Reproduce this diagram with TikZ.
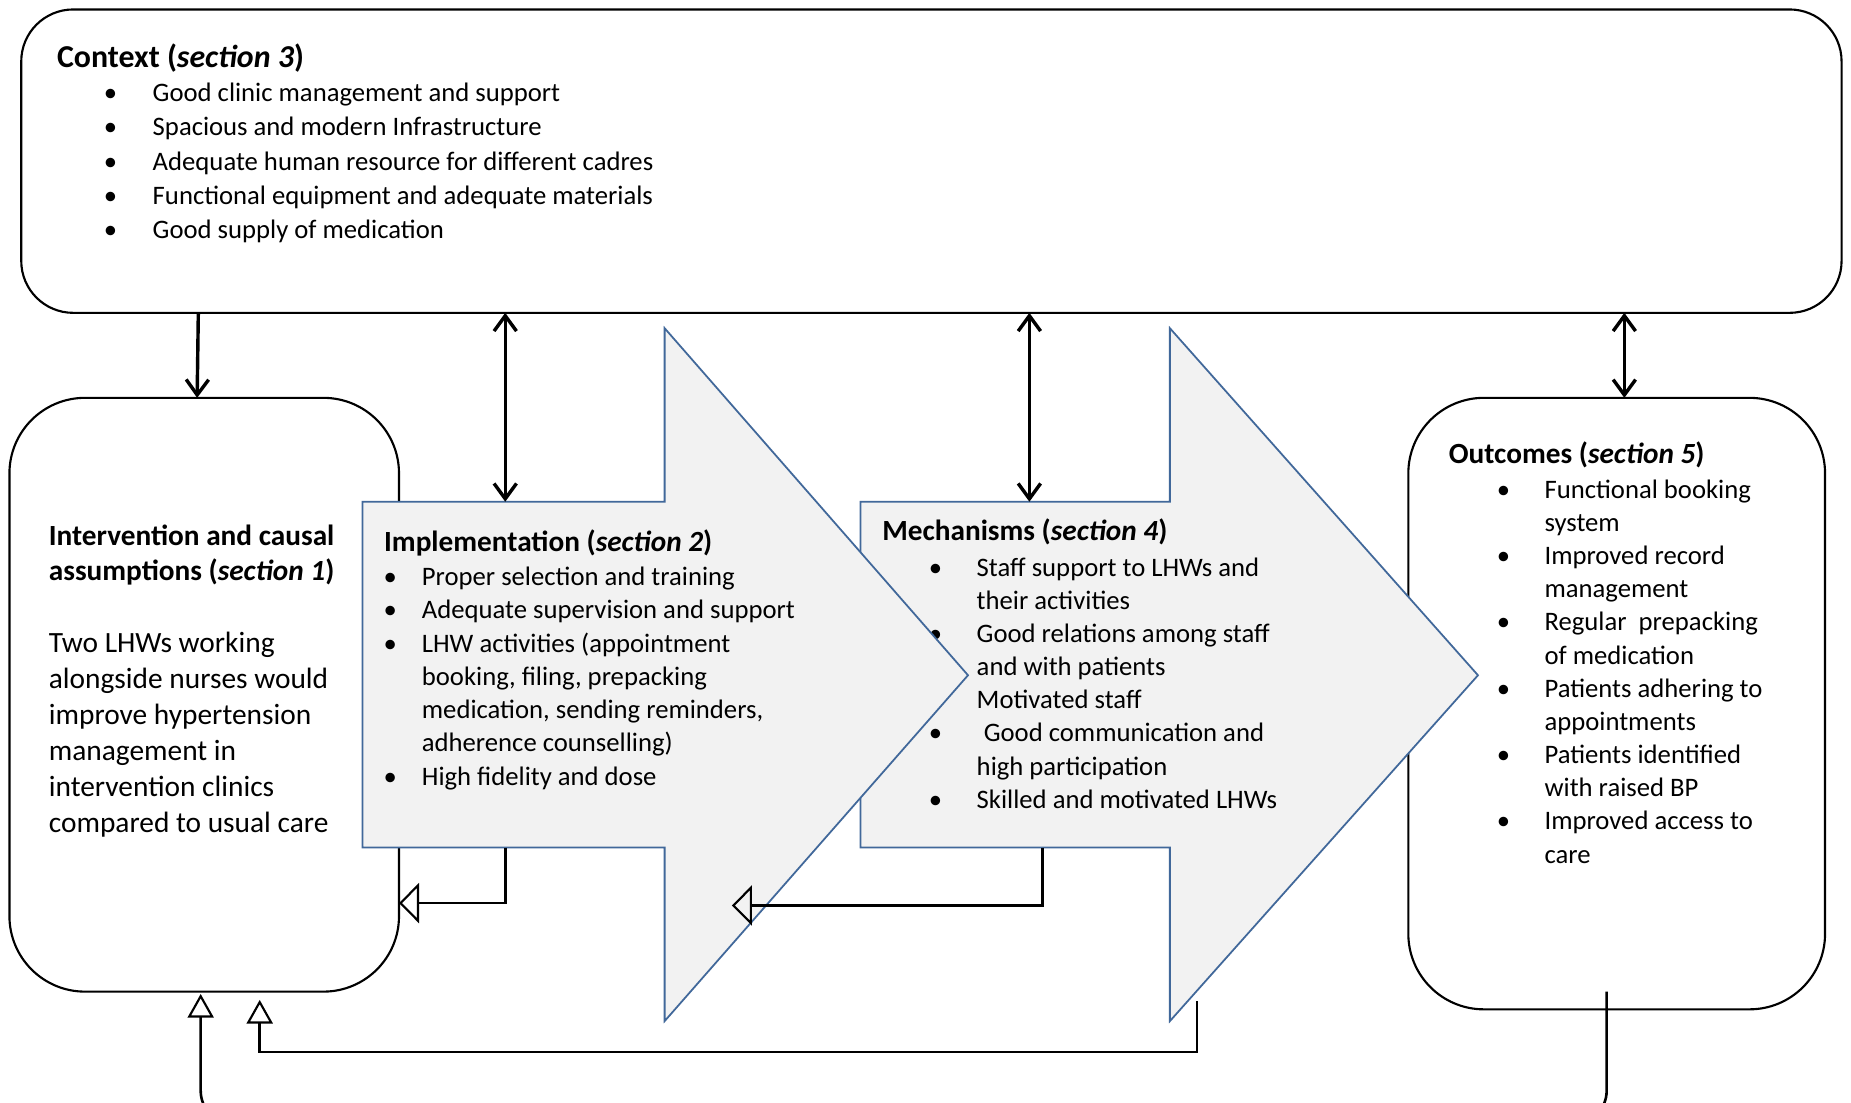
\documentclass[tikz,border=0pt]{standalone}
\usepackage{fontspec}
\setmainfont{Carlito}
\usetikzlibrary{arrows.meta}
\definecolor{arrowfill}{HTML}{F2F2F2}
\definecolor{arrowline}{HTML}{41689A}
\newcommand{\hd}[2]{\textbf{#1 (\textit{#2})}}
\begin{document}
\begin{tikzpicture}[x=0.5pt,y=-0.5pt,
  roundbox/.style={draw=black,line width=0.9pt,inner sep=0pt,outer sep=0pt},
  bigarrow/.style={fill=arrowfill,draw=arrowline,line width=0.75pt,line join=miter},
  heading/.style={anchor=base west,inner sep=0pt,font=\fontsize{12.4}{15}\selectfont},
  listtext/.style={anchor=base west,inner sep=0pt},
  dbl/.style={line width=1.45pt,{Straight Barb[length=6.5pt,width=9.5pt]}-{Straight Barb[length=6.5pt,width=9.5pt]}},
  sgl/.style={line width=1.45pt,-{Straight Barb[length=6.5pt,width=9.5pt]}},
  fbside/.style={line width=1.1pt,-{Triangle[open,length=8.5pt,width=17pt,line width=0.9pt]}},
  fbup/.style={line width=1.1pt,-{Triangle[open,length=10pt,width=11pt,line width=0.9pt]}},
]
\useasboundingbox (0,0) rectangle (1568,934);
\fill[white] (0,0) rectangle (1568,934);

% Context box
\node[roundbox,rounded corners=22pt,minimum width=771pt,minimum height=128.5pt] (context) at (789,136.5) {};
\node[heading,font=\fontsize{13.5}{15}\selectfont] (ctxHead) at (48,57) {\hd{Context}{section 3}};
\node[listtext,font=\fontsize{11.3}{14.5}\selectfont] (ctxList) at (87.5,86) {\begin{tabular}[t]{@{}p{20.75pt}@{}l@{}}
\textbullet & Good clinic management and support\\
\textbullet & Spacious and modern Infrastructure\\
\textbullet & Adequate human resource for different cadres\\
\textbullet & Functional equipment and adequate materials\\
\textbullet & Good supply of medication
\end{tabular}};

% Intervention box
\node[roundbox,rounded corners=32pt,minimum width=165pt,minimum height=251.5pt] (interv) at (173,588.5) {};
\node[heading] (intHead) at (41,462) {\begin{tabular}[t]{@{}l@{}}
\textbf{Intervention and causal}\\
\textbf{assumptions (\textit{section 1})}
\end{tabular}};
\node[listtext,font=\fontsize{12.45}{15.2}\selectfont] (intBody) at (41,553) {\begin{tabular}[t]{@{}l@{}}
Two LHWs working\\
alongside nurses would\\
improve hypertension\\
management in\\
intervention clinics\\
compared to usual care
\end{tabular}};

% Outcomes box
\node[roundbox,rounded corners=32pt,minimum width=176.5pt,minimum height=259pt] (outcomes) at (1369.5,596) {};
\node[heading] (outHead) at (1227,393) {\hd{Outcomes}{section 5}};
\node[listtext,font=\fontsize{11.3}{14.05}\selectfont] (outList) at (1267.5,422) {\begin{tabular}[t]{@{}p{20.25pt}@{}l@{}}
\textbullet & Functional booking\\
 & system\\
\textbullet & Improved record\\
 & management\\
\textbullet & Regular~ prepacking\\
 & of medication\\
\textbullet & Patients adhering to\\
 & appointments\\
\textbullet & Patients identified\\
 & with raised BP\\
\textbullet & Improved access to\\
 & care
\end{tabular}};

% Mechanisms arrow
\draw[bigarrow] (729,425) coordinate (mecNW) -- (991,425) -- (991,278) -- (1252,572) coordinate (mecTip)
  -- (991,865) -- (991,718) -- (729,718) coordinate (mecSW) -- cycle;
\node[heading] (mecHead) at (747,458) {\hd{Mechanisms}{section 4}};
\node[listtext,font=\fontsize{11.3}{14.05}\selectfont] (mecList) at (786.5,488) {\begin{tabular}[t]{@{}p{20.25pt}@{}l@{}}
\textbullet & Staff support to LHWs and\\
 & their activities\\
\textbullet & Good relations among staff\\
 & and with patients\\
 & Motivated staff\\
\textbullet & \hspace{3pt}Good communication and\\
 & high participation\\
\textbullet & Skilled and motivated LHWs
\end{tabular}};

% Implementation arrow
\draw[bigarrow] (307,425) coordinate (impNW) -- (563,425) -- (563,278) -- (820,572) coordinate (impTip)
  -- (563,865) -- (563,718) -- (307,718) coordinate (impSW) -- cycle;
\node[heading] (impHead) at (325,467) {\hd{Implementation}{section 2}};
\node[listtext,font=\fontsize{11.3}{14.1}\selectfont] (impList) at (324.5,496) {\begin{tabular}[t]{@{}p{16.25pt}@{}l@{}}
\textbullet & Proper selection and training\\
\textbullet & Adequate supervision and support\\
\textbullet & LHW activities (appointment\\
 & booking, filing, prepacking\\
 & medication, sending reminders,\\
 & adherence counselling)\\
\textbullet & High fidelity and dose
\end{tabular}};

% connector coordinates
\coordinate (impTop) at (428,425);
\coordinate (mecTop) at (872,425);
\coordinate (impBot) at (428,718);
\coordinate (mecBot) at (883,718);
\coordinate (fbA) at (428,765);
\coordinate (fbB) at (620,767);
\coordinate (fbC) at (1014,848);
\coordinate (fbCend) at (220,847);
\coordinate (fbD) at (1361,840);
\coordinate (fbDend) at (170,842);

% context links
\draw[sgl] (context.south -| 168,0) -- (interv.north -| 167,0);
\draw[dbl] (context.south -| impTop) -- (impTop);
\draw[dbl] (context.south -| mecTop) -- (mecTop);
\draw[dbl] (context.south -| 1376,0) -- (outcomes.north -| 1376,0);

% feedback links
\draw[fbside] (impBot) |- (fbA -| interv.east);
\draw[fbside] (mecBot) |- (fbB);
\draw[fbup] (fbC) -- (1014,891) -- (220,891) -- (fbCend);
\draw[fbup,rounded corners=14pt] (fbD) -- (1361,952) -- (170,952) -- (fbDend);
\end{tikzpicture}
\end{document}
